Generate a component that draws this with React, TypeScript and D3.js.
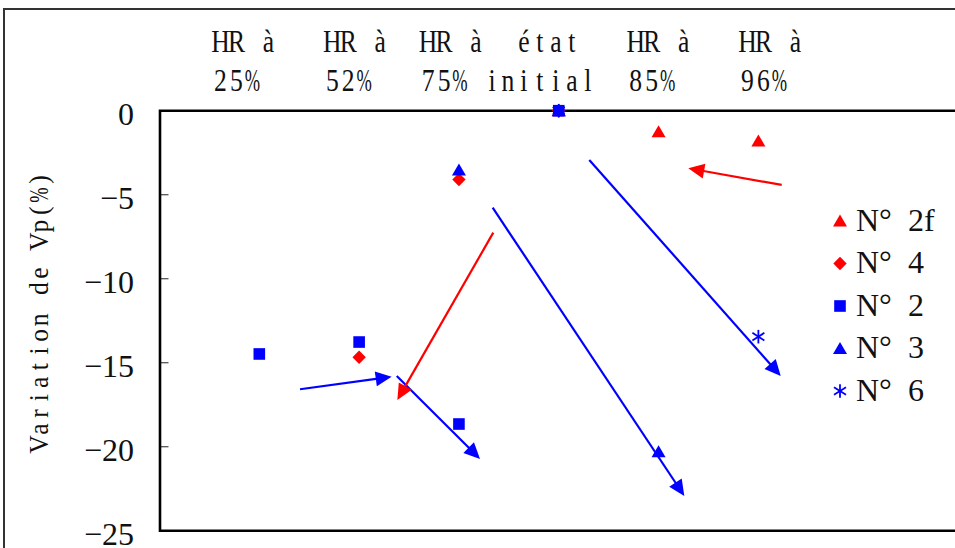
import React, { useEffect } from "react";
import * as d3 from "d3";

// ---- data ----
const headerLine1 = "HR à   HR à  HR à  état   HR à   HR à";
const headerLine2 = "25%    52%   75% initial  85%    96%";
const yTicks = [0, -5, -10, -15, -20, -25];
const yTitle = "Variation de Vp(%)";

type Pt = { c: number; v: number };
const seriesN2f: Pt[] = [{ c: 4, v: 0 }, { c: 5, v: -1.25 }, { c: 6, v: -1.8 }];
const seriesN4: Pt[] = [{ c: 2, v: -14.68 }, { c: 3, v: -4.1 }, { c: 4, v: 0 }];
const seriesN2: Pt[] = [{ c: 1, v: -14.48 }, { c: 2, v: -13.77 }, { c: 3, v: -18.65 }, { c: 4, v: 0 }];
const seriesN3: Pt[] = [{ c: 3, v: -3.53 }, { c: 4, v: 0 }, { c: 5, v: -20.3 }];
const seriesN6: Pt[] = [{ c: 4, v: 0 }, { c: 6, v: -13.45 }];

const legendNames = ["N°  2f", "N°  4", "N°  2", "N°  3", "N°  6"];

// arrows: [x1, y1, x2, y2] in data units (category index, %)
const arrowsBlue = [
  [1.408, -16.58, 2.326, -15.83],
  [2.377, -15.79, 3.211, -20.73],
  [3.338, -5.77, 5.258, -22.93],
  [4.306, -2.93, 6.224, -15.79],
];
const arrowsRed = [
  [3.344, -7.26, 2.383, -17.22],
  [6.234, -4.42, 5.298, -3.43],
];

const RED = "#ff0000";
const BLUE = "#0000ff";

const x = d3.scaleLinear().domain([0, 8]).range([159.5, 958]);
const y = d3.scaleLinear().domain([0, -25]).range([110.7, 530.7]);

function Marker({ kind, cx, cy, color }: { kind: string; cx: number; cy: number; color: string }) {
  if (kind === "tri") {
    return <path d={`M${cx},${cy - 6.5} L${cx + 7},${cy + 5.5} L${cx - 7},${cy + 5.5} Z`} fill={color} />;
  }
  if (kind === "dia") {
    return <path d={`M${cx},${cy - 6.7} L${cx + 6.7},${cy} L${cx},${cy + 6.7} L${cx - 6.7},${cy} Z`} fill={color} />;
  }
  if (kind === "sq") {
    return <rect x={cx - 5.8} y={cy - 5.8} width={11.6} height={11.6} fill={color} />;
  }
  return (
    <g stroke={color} strokeWidth={1.8}>
      <line x1={cx} y1={cy - 6.8} x2={cx} y2={cy + 6.8} />
      <line x1={cx - 6} y1={cy - 3.8} x2={cx + 6} y2={cy + 3.8} />
      <line x1={cx - 6} y1={cy + 3.8} x2={cx + 6} y2={cy - 3.8} />
    </g>
  );
}

function Arrow({ a, color }: { a: number[]; color: string }) {
  const x1 = x(a[0]), y1 = y(a[1]), x2 = x(a[2]), y2 = y(a[3]);
  const dx = x2 - x1, dy = y2 - y1;
  const len = Math.hypot(dx, dy);
  const ux = dx / len, uy = dy / len;
  const hl = 16, hw = 7.5;
  const bx = x2 - ux * hl, by = y2 - uy * hl;
  const px = -uy, py = ux;
  return (
    <g>
      <line x1={x1} y1={y1} x2={bx + ux * 2} y2={by + uy * 2} stroke={color} strokeWidth={2.2} />
      <path d={`M${x2},${y2} L${bx + px * hw},${by + py * hw} L${bx - px * hw},${by - py * hw} Z`} fill={color} />
    </g>
  );
}

// monospace-grid text drawn with a serif face (each glyph centred in its cell)
function GridText({ str, x0, y0, cell, fontSize, sx }: { str: string; x0: number; y0: number; cell: number; fontSize: number; sx: number }) {
  return (
    <g fontFamily="'Liberation Serif', 'DejaVu Serif', serif" fontSize={fontSize} fill="#111">
      {Array.from(str).map((ch, i) =>
        ch === " " ? null : (
          <text
            key={i}
            textAnchor="middle"
            transform={`translate(${x0 + (i + 0.5) * cell},${y0}) scale(${ch === "%" ? sx * 0.72 : sx},1)`}
          >
            {ch}
          </text>
        )
      )}
    </g>
  );
}

const seriesDefs = [
  { data: seriesN2f, kind: "tri", color: RED },
  { data: seriesN4, kind: "dia", color: RED },
  { data: seriesN2, kind: "sq", color: BLUE },
  { data: seriesN3, kind: "tri", color: BLUE },
  { data: seriesN6, kind: "ast", color: BLUE },
];

export default function App() {
  useEffect(() => {
    document.body.style.margin = "0";
  }, []);
  const legendY = d3.scaleLinear().domain([0, 4]).range([221, 391]);
  const titleCell = 15.6;
  const titleLen = Array.from(yTitle).length * titleCell;
  return (
    <svg width={955} height={548} style={{ position: "absolute", left: 0, top: 0, background: "#fff" }}>
      <rect x={0} y={0} width={955} height={548} fill="#fff" />
      <path d="M4,548 V9 H955" fill="none" stroke="#333" strokeWidth={2} />

      {/* header annotation */}
      <GridText str={headerLine1} x0={212.5} y0={52} cell={15.97} fontSize={32} sx={0.8} />
      <GridText str={headerLine2} x0={212.5} y0={91} cell={15.97} fontSize={32} sx={0.8} />

      {/* y title */}
      <g transform="translate(48,312) rotate(-90)">
        <GridText str={yTitle} x0={-titleLen / 2} y0={0} cell={titleCell} fontSize={27} sx={0.95} />
      </g>

      {/* y ticks and labels */}
      {yTicks.map((t) => (
        <g key={t}>
          {t !== 0 && t !== -25 && (
            <line x1={x(0)} x2={x(0) + 9} y1={y(t)} y2={y(t)} stroke="#555" strokeWidth={1.3} />
          )}
          <text x={134} y={y(t) + 14} textAnchor="end" fontFamily="'Liberation Serif', serif" fontSize={32} fill="#111">
            {t < 0 ? "\u2212" + Math.abs(t) : String(t)}
          </text>
        </g>
      ))}

      {/* plot frame */}
      <path d={`M955,${y(0)} H${x(0) + 0.5} V${y(-25)} H955`} fill="none" stroke="#000" strokeWidth={2.6} />

      {arrowsBlue.map((a, i) => (
        <Arrow key={"b" + i} a={a} color={BLUE} />
      ))}
      {arrowsRed.map((a, i) => (
        <Arrow key={"r" + i} a={a} color={RED} />
      ))}

      {seriesDefs.map((s, si) =>
        s.data.map((p, pi) => (
          <Marker key={si + "-" + pi} kind={s.kind} cx={x(p.c)} cy={y(p.v)} color={s.color} />
        ))
      )}

      {/* legend */}
      {seriesDefs.map((s, i) => (
        <g key={"lg" + i}>
          <Marker kind={s.kind} cx={840} cy={legendY(i)} color={s.color} />
          <text x={856} y={legendY(i) + 9.5} fontFamily="'Liberation Serif', serif" fontSize={32} fill="#111" style={{ whiteSpace: "pre" }}>
            {legendNames[i]}
          </text>
        </g>
      ))}
    </svg>
  );
}
